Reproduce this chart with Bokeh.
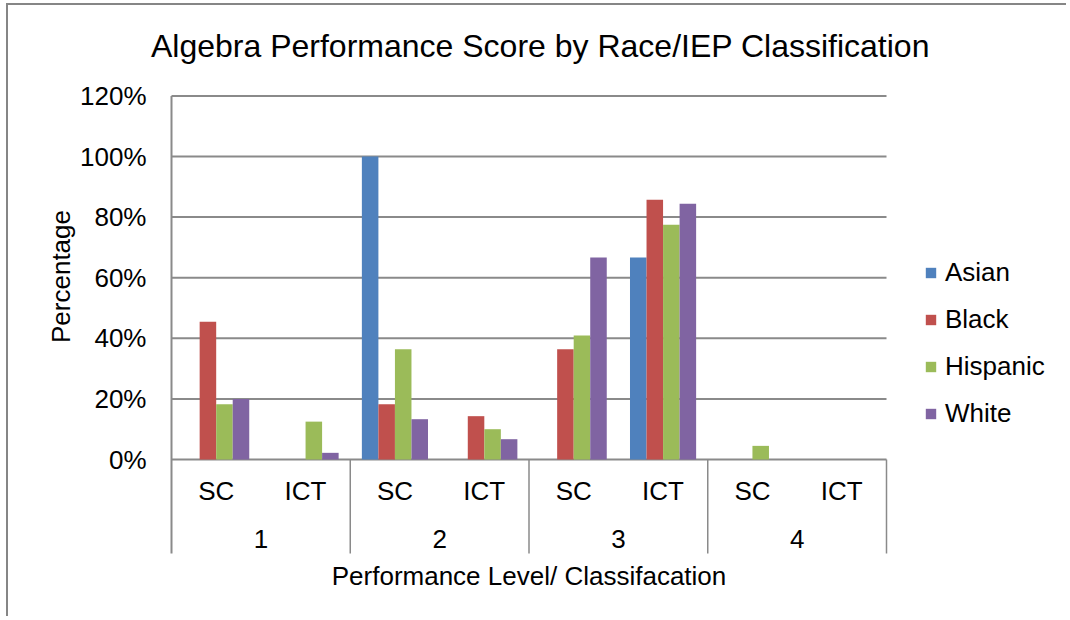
import math
from bokeh.plotting import figure
from bokeh.models import Range1d, FixedTicker, NumeralTickFormatter, Legend
from bokeh.core.properties import value
from bokeh.transform import dodge
from bokeh.embed import file_html
from bokeh.resources import INLINE

# ---- data ----
title_text = "Algebra Performance Score by Race/IEP Classification"
x_title = "Performance Level/ Classifacation"
y_title = "Percentage"
levels = ["1", "2", "3", "4"]
classes = ["SC", "ICT"]
asian = [0, 0, 100, 0, 0, 66.7, 0, 0]
black = [45.5, 0, 18.2, 14.3, 36.4, 85.7, 0, 0]
hispanic = [18.2, 12.5, 36.4, 10.0, 40.9, 77.5, 4.5, 0]
white = [20.0, 2.2, 13.3, 6.7, 66.7, 84.4, 0, 0]
series_names = ["Asian", "Black", "Hispanic", "White"]
y_ticks = [0, 20, 40, 60, 80, 100, 120]

# ---- style / layout (pixels, canvas coordinates) ----
FONT_NAME = "Liberation Sans"
FONT = value(FONT_NAME)
FS = "26px"
colors = ["#4F81BD", "#C0504D", "#9BBB59", "#8064A2"]
GRID = "#8a8a8a"
CANVAS_W, CANVAS_H = 1060, 613
AXIS_X = 163             # pixel column of the value axis
CAT_BOTTOM = 548         # bottom of the category label block
ZERO_Y = 454             # pixel row of 0%
Y_PX = 303.0             # pixels per 100%
PLOT_W_PX = 715          # width used by the category columns

factors = [(lv, c) for lv in levels for c in classes]
n = len(factors)
nc = len(classes)
x_px = PLOT_W_PX / n


def px_x(px):
    return (px - AXIS_X) / x_px


def px_y(py):
    return (ZERO_Y - py) / Y_PX


YMIN_CAT = px_y(CAT_BOTTOM)
YTOP = max(y_ticks) / 100

p = figure(width=CANVAS_W, height=CANVAS_H, title=None,
           x_range=Range1d(px_x(0), px_x(CANVAS_W)),
           y_range=Range1d(px_y(CANVAS_H), px_y(0)),
           output_backend="svg", toolbar_location=None,
           min_border=0)
p.outline_line_color = None
p.background_fill_color = "white"
p.styles = {"margin-left": "6px", "margin-top": "3px",
            "border-left": "2px solid #868686", "border-top": "2px solid #868686"}

# title
p.text(x=[px_x(532)], y=[px_y(40)], text=[title_text],
       text_font=FONT, text_font_size="32px", text_align="center",
       text_baseline="middle", text_color="black")

# gridlines (only across the category columns)
tick_vals = [t / 100 for t in y_ticks]
p.segment(x0=[0] * len(tick_vals), x1=[n] * len(tick_vals), y0=tick_vals, y1=tick_vals,
          line_color=GRID, line_width=2)

# bars
xc = [i + 0.5 for i in range(n)]
data = dict(x=xc)
for name, vals in zip(series_names, [asian, black, hispanic, white]):
    data[name] = [v / 100 for v in vals]
width = 0.185
offsets = [-1.5 * width, -0.5 * width, 0.5 * width, 1.5 * width]
items = []
for name, col, off in zip(series_names, colors, offsets):
    r = p.vbar(x=dodge("x", off), top=name, bottom=0, width=width,
               source=data, fill_color=col, line_color=None)
    items.append((name, [r]))

# value axis, pinned at the left edge of the category columns
p.yaxis.fixed_location = 0
p.yaxis.ticker = FixedTicker(ticks=tick_vals)
p.yaxis.formatter = NumeralTickFormatter(format="0%")
p.yaxis.axis_line_color = None
p.yaxis.major_tick_line_color = None
p.yaxis.minor_tick_line_color = None
p.yaxis.major_tick_out = 0
p.yaxis.major_tick_in = 0
p.yaxis.major_label_standoff = 25
p.yaxis.major_label_text_font = FONT_NAME
p.yaxis.major_label_text_font_size = FS
p.yaxis.major_label_text_color = "black"
p.grid.visible = False
p.xaxis.visible = False

p.text(x=[px_x(52)], y=[px_y(271)], text=[y_title], angle=math.pi / 2,
       text_font=FONT, text_font_size=FS, text_align="center",
       text_baseline="middle", text_color="black")

# category axis drawn below zero
p.segment(x0=[0], x1=[0], y0=[YMIN_CAT], y1=[YTOP], line_color=GRID, line_width=2)
seps = [i * nc for i in range(1, len(levels) + 1)]
p.segment(x0=seps, x1=seps, y0=[YMIN_CAT] * len(seps), y1=[0] * len(seps),
          line_color=GRID, line_width=1.5)
p.text(x=xc, y=[px_y(485)] * n, text=[c for _, c in factors],
       text_font=FONT, text_font_size=FS, text_align="center",
       text_baseline="middle", text_color="black")
lvl_x = [i * nc + nc / 2 for i in range(len(levels))]
p.text(x=lvl_x, y=[px_y(533)] * len(levels), text=levels,
       text_font=FONT, text_font_size=FS, text_align="center",
       text_baseline="middle", text_color="black")
p.text(x=[n / 2], y=[px_y(570)], text=[x_title],
       text_font=FONT, text_font_size=FS, text_align="center",
       text_baseline="middle", text_color="black")

# legend
lg = Legend(items=items, location=(916, 189), ncols=1)
lg.padding = 0
lg.margin = 0
lg.border_line_color = None
lg.background_fill_alpha = 0
lg.glyph_width = 13
lg.glyph_height = 13
lg.label_height = 30
lg.spacing = 16
lg.label_standoff = 8
lg.label_text_font = FONT_NAME
lg.label_text_font_size = FS
lg.label_text_color = "black"
lg.label_text_baseline = "middle"
p.add_layout(lg, "center")

open("out.html", "w").write(file_html(p, INLINE))
